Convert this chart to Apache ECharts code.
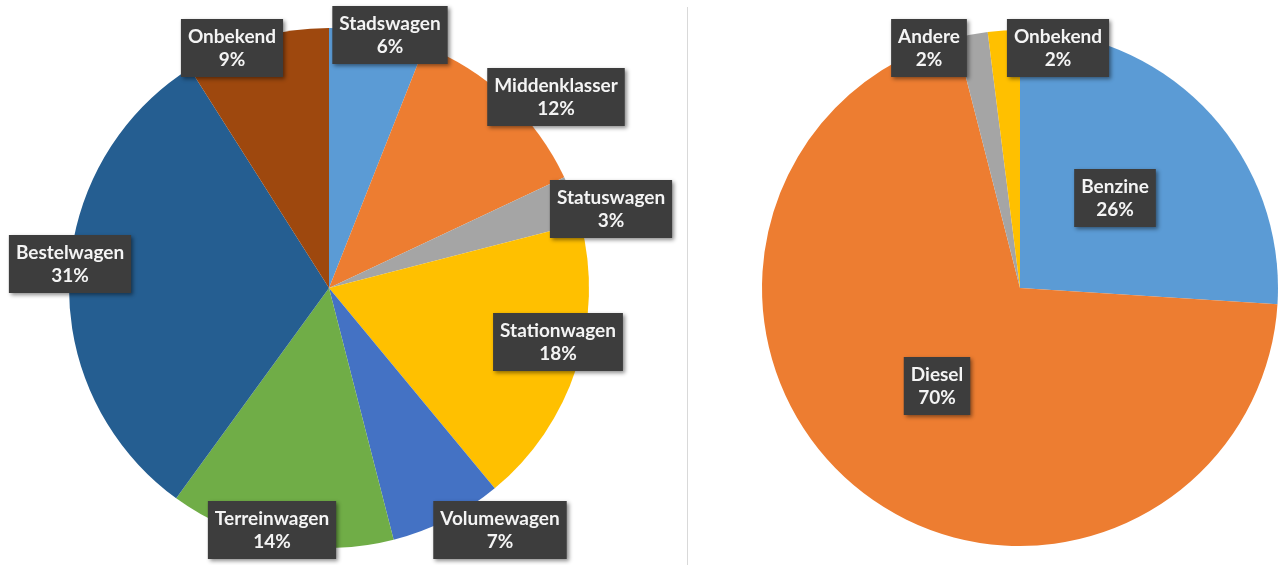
<!DOCTYPE html>
<html>
<head>
<meta charset="utf-8">
<script src="https://cdn.jsdelivr.net/npm/echarts@6/dist/echarts.min.js"></script>
<style>
html,body{margin:0;padding:0;background:#fff;}
#c{width:1288px;height:565px;}
</style>
</head>
<body>
<div id="c"></div>
<script>
// Left pie: vehicle types (percent)
const typeNames = ['Stadswagen','Middenklasser','Statuswagen','Stationwagen','Volumewagen','Terreinwagen','Bestelwagen','Onbekend'];
const typeValues = [6, 12, 3, 18, 7, 14, 31, 9];
const typeColors = ['#5B9BD5','#ED7D31','#A5A5A5','#FFC000','#4472C4','#70AD47','#255E91','#9E480E'];

// Right pie: fuel types (percent)
const fuelNames = ['Benzine','Diesel','Andere','Onbekend'];
const fuelValues = [26, 70, 2, 2];
const fuelColors = ['#5B9BD5','#ED7D31','#A5A5A5','#FFC000'];

// Label placement offsets (px) relative to each pie centre
const leftCenter = [329, 288], rightCenter = [1020, 288];
const leftLabelOffsets = [[61,-253],[227,-191],[282,-79],[229,54],[171,242],[-57,242],[-259,-24],[-97,-240]];
const rightLabelOffsets = [[95,-90],[-83,98],[-91,-240],[38,-240]];

const labelStyle = {
  show: true,
  position: 'inside',
  formatter: '{b}\n{c}%',
  color: '#f4f4f4',
  fontFamily: 'Lato',
  fontWeight: 'bold',
  fontSize: 19,
  lineHeight: 23,
  align: 'center',
  backgroundColor: '#3d3d3d',
  padding: [6, 7, 6, 7],
  shadowColor: 'rgba(0,0,0,0.45)',
  shadowBlur: 4,
  shadowOffsetX: 2,
  shadowOffsetY: 2
};

function makeData(names, values, colors) {
  return names.map((n, i) => ({ name: n, value: values[i], itemStyle: { color: colors[i] } }));
}

const chart = echarts.init(document.getElementById('c'), null, { renderer: 'canvas' });
chart.setOption({
  backgroundColor: '#fff',
  animation: false,
  graphic: [{
    type: 'line',
    shape: { x1: 687.5, y1: 7, x2: 687.5, y2: 565 },
    style: { stroke: '#d9d9d9', lineWidth: 1 }
  }],
  series: [
    {
      type: 'pie',
      center: leftCenter,
      radius: 260,
      startAngle: 90,
      clockwise: true,
      avoidLabelOverlap: false,
      label: labelStyle,
      labelLine: { show: false },
      labelLayout: function (p) {
        const o = leftLabelOffsets[p.dataIndex];
        return { x: leftCenter[0] + o[0], y: leftCenter[1] + o[1], align: 'center', verticalAlign: 'middle' };
      },
      emphasis: { disabled: true },
      data: makeData(typeNames, typeValues, typeColors)
    },
    {
      type: 'pie',
      center: rightCenter,
      radius: 258,
      startAngle: 90,
      clockwise: true,
      avoidLabelOverlap: false,
      label: labelStyle,
      labelLine: { show: false },
      labelLayout: function (p) {
        const o = rightLabelOffsets[p.dataIndex];
        return { x: rightCenter[0] + o[0], y: rightCenter[1] + o[1], align: 'center', verticalAlign: 'middle' };
      },
      emphasis: { disabled: true },
      data: makeData(fuelNames, fuelValues, fuelColors)
    }
  ]
});
</script>
</body>
</html>
